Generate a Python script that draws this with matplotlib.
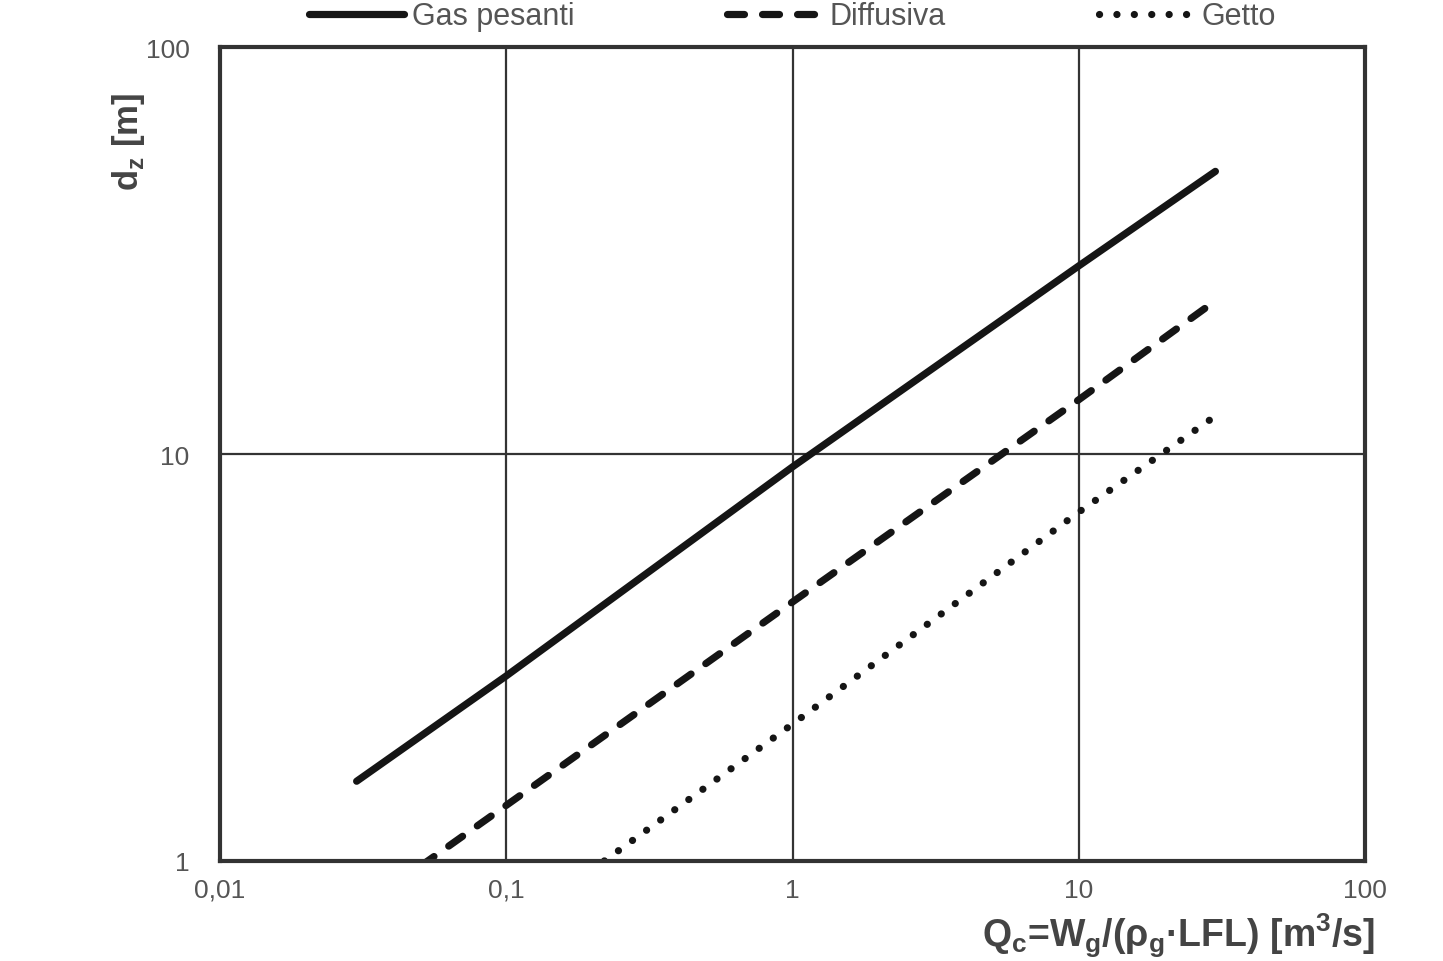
import matplotlib
matplotlib.use("Agg")
import matplotlib.pyplot as plt
from matplotlib.ticker import FixedLocator, FixedFormatter, NullLocator

# values (log-log)
q_gas = [0.03, 0.1, 1, 10, 30]
dz_gas = [1.57, 2.85, 9.3, 29.0, 49.5]

q_diff = [0.05, 0.1, 1, 10, 30]
dz_diff = [0.97, 1.37, 4.33, 13.6, 23.8]

q_getto = [0.22, 1, 10, 30]
dz_getto = [1.0, 2.17, 7.2, 12.4]

x_ticks = [0.01, 0.1, 1, 10, 100]
x_labels = ["0,01", "0,1", "1", "10", "100"]
y_ticks = [1, 10, 100]
y_labels = ["1", "10", "100"]

plt.rcParams['font.family'] = ['Liberation Sans', 'DejaVu Sans']

fig = plt.figure(figsize=(14.43, 9.62), dpi=100)
ax = fig.add_axes([0.1525, 0.104, 0.7935, 0.846])

lw = 5.2
ax.plot(q_gas, dz_gas, color='#151515', lw=lw, solid_capstyle='round',
        label='Gas pesanti')
ax.plot(q_diff, dz_diff, color='#151515', lw=lw, dashes=(2.35, 2.5),
        dash_capstyle='round', label='Diffusiva')
ax.plot(q_getto, dz_getto, color='#151515', lw=lw, dashes=(0.01, 2.4),
        dash_capstyle='round', label='Getto')

ax.set_xscale('log')
ax.set_yscale('log')
ax.set_xlim(0.01, 100)
ax.set_ylim(1, 100)

ax.xaxis.set_major_locator(FixedLocator(x_ticks))
ax.xaxis.set_major_formatter(FixedFormatter(x_labels))
ax.yaxis.set_major_locator(FixedLocator(y_ticks))
ax.yaxis.set_major_formatter(FixedFormatter(y_labels))
ax.xaxis.set_minor_locator(NullLocator())
ax.yaxis.set_minor_locator(NullLocator())
ax.tick_params(axis='both', length=0, labelsize=19, colors='#555555', pad=12)
ax.tick_params(axis='y', pad=22)

ax.grid(True, which='major', color='#333333', lw=1.6)
ax.set_axisbelow(True)
for s in ax.spines.values():
    s.set_linewidth(3)
    s.set_color('#333333')

ax.set_ylabel(r'd$_\mathregular{z}$ [m]', fontsize=25, fontweight='bold',
              color='#444444')
ax.yaxis.set_label_coords(-0.064, 0.885)

fig.text(0.953, 0.002,
         r'Q$_\mathregular{c}$=W$_\mathregular{g}$/(ρ$_\mathregular{g}$·LFL) [m$^\mathregular{3}$/s]',
         fontsize=27, fontweight='bold', color='#444444', ha='right', va='bottom')

ax.legend(loc='lower center', bbox_to_anchor=(0.5, 0.997), ncol=3, frameon=False,
          fontsize=22, handlelength=3.1, handletextpad=0.26, columnspacing=5.0,
          labelcolor='#555555', borderaxespad=0.2)

fig.savefig('out.png', dpi=100)
